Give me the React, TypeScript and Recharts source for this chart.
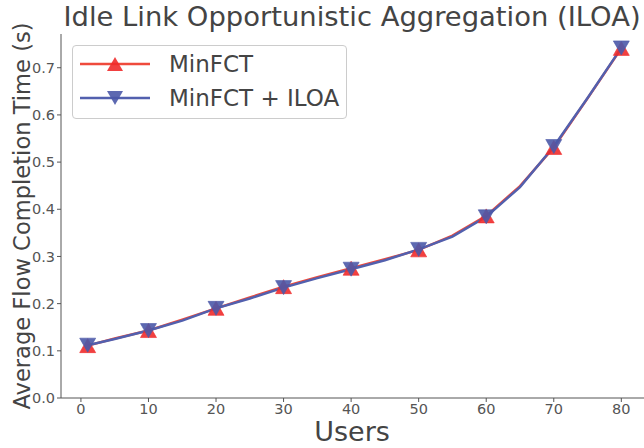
import React from 'react';
import { LineChart, Line, XAxis, YAxis, Label } from 'recharts';

const users = [1, 5, 10, 15, 20, 25, 30, 35, 40, 45, 50, 55, 60, 65, 70, 75, 80];
const minFct = [0.111, 0.126, 0.143, 0.166, 0.19, 0.213, 0.236, 0.256, 0.275, 0.294, 0.314, 0.344, 0.386, 0.449, 0.531, 0.635, 0.741];
const minFctIloa = [0.112, 0.125, 0.143, 0.164, 0.19, 0.211, 0.234, 0.254, 0.273, 0.292, 0.315, 0.342, 0.384, 0.447, 0.533, 0.636, 0.742];
const xTicks = [0, 10, 20, 30, 40, 50, 60, 70, 80];
const yTicks = [0, 0.1, 0.2, 0.3, 0.4, 0.5, 0.6, 0.7];

const RED_LINE = '#ef4a3c';
const RED_MARK = '#ef2b2b';
const BLUE_LINE = '#5260ae';
const BLUE_MARK = '#4b59a8';
const FONT = '"DejaVu Sans", sans-serif';
const TEXT = '#444';

const data = users.map((u, i) => ({ users: u, minFct: minFct[i], iloa: minFctIloa[i] }));

// markers only on every other point
const triDot = (up: boolean, color: string) => (props: any) => {
  const { cx, cy, index } = props;
  if (index % 2 !== 0 || cx == null) return <g key={index} />;
  const w = 8;
  const h = 7;
  const pts = up
    ? `${cx},${cy - h} ${cx - w},${cy + h} ${cx + w},${cy + h}`
    : `${cx},${cy + h} ${cx - w},${cy - h} ${cx + w},${cy - h}`;
  return <polygon key={index} points={pts} fill={color} fillOpacity={0.9} stroke={color} strokeOpacity={0.6} strokeWidth={1} />;
};

const legendItems = [
  { name: 'MinFCT', line: RED_LINE, mark: RED_MARK, up: true },
  { name: 'MinFCT + ILOA', line: BLUE_LINE, mark: BLUE_MARK, up: false },
];

const LegendBox = () => (
  <div
    style={{
      position: 'absolute',
      left: 72,
      top: 45,
      border: '1px solid #ccc',
      borderRadius: 4,
      background: 'rgba(255,255,255,0.8)',
      width: 275,
      height: 74,
      boxSizing: 'border-box',
      fontFamily: FONT,
      fontSize: 23,
      color: TEXT,
    }}
  >
    {legendItems.map((e, i) => (
      <div key={e.name} style={{ position: 'absolute', left: 7, top: 3 + i * 34, height: 30, display: 'flex', alignItems: 'center' }}>
        <svg width={72} height={30}>
          <line x1={0} y1={15} x2={70} y2={15} stroke={e.line} strokeWidth={2.5} />
          <polygon points={e.up ? '35,8 27,22 43,22' : '35,22 27,8 43,8'} fill={e.mark} fillOpacity={0.9} />
        </svg>
        <span style={{ marginLeft: 17 }}>{e.name}</span>
      </div>
    ))}
  </div>
);

export default function App() {
  return (
    <div style={{ position: 'absolute', left: 0, top: 0, width: 644, height: 448, overflow: 'hidden', background: '#fff' }}>
      <div
        style={{
          position: 'absolute',
          left: 50,
          width: 604,
          top: 0,
          textAlign: 'center',
          fontFamily: FONT,
          fontSize: 27.4,
          color: TEXT,
          lineHeight: '34px',
          whiteSpace: 'nowrap',
        }}
      >
        Idle Link Opportunistic Aggregation (ILOA)
      </div>
      <LineChart width={650} height={448} data={data} margin={{ top: 34, right: 2, left: 11, bottom: 0 }}>
        <XAxis xAxisId="top" orientation="top" dataKey="users" type="number" domain={[-2.95, 83.95]} tick={false} tickLine={false} height={0} stroke="#555" allowDataOverflow />
        <XAxis
          dataKey="users"
          type="number"
          domain={[-2.95, 83.95]}
          ticks={xTicks}
          allowDataOverflow
          height={50}
          stroke="#555"
          tickSize={4}
          tick={{ fill: '#555', fontSize: 14.5, fontFamily: FONT }}
        >
          <Label
            content={() => (
              <text x={352} y={441} textAnchor="middle" fill={TEXT} fontSize={27} fontFamily={FONT}>
                Users
              </text>
            )}
          />
        </XAxis>
        <YAxis
          domain={[0, 0.7715]}
          ticks={yTicks}
          allowDataOverflow
          width={50}
          stroke="#555"
          tickSize={4}
          tickFormatter={(v: number) => v.toFixed(1)}
          tick={{ fill: '#555', fontSize: 14.5, fontFamily: FONT }}
        >
          <Label
            content={() => (
              <text
                x={0}
                y={0}
                transform="translate(30,216) rotate(-90)"
                textAnchor="middle"
                fill={TEXT}
                fontSize={22.6}
                fontFamily={FONT}
              >
                Average Flow Completion Time (s)
              </text>
            )}
          />
        </YAxis>
        <Line dataKey="minFct" name="MinFCT" stroke={RED_LINE} strokeWidth={2.5} dot={triDot(true, RED_MARK)} isAnimationActive={false} />
        <Line dataKey="iloa" name="MinFCT + ILOA" stroke={BLUE_LINE} strokeWidth={2.5} dot={triDot(false, BLUE_MARK)} isAnimationActive={false} />
      </LineChart>
      <LegendBox />
    </div>
  );
}
